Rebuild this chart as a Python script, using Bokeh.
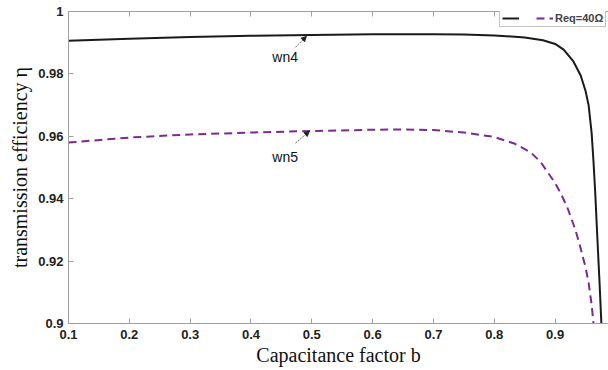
import math
from bokeh.plotting import figure
from bokeh.models import (Range1d, FixedTicker, CustomJSTickFormatter, LinearAxis, Label,
                          Arrow, NormalHead, Legend, LegendItem)
from bokeh.embed import file_html
from bokeh.resources import INLINE

# ---- data ----
b_wn4 = [0.10, 0.20, 0.30, 0.40, 0.50, 0.60, 0.70, 0.75, 0.80, 0.85, 0.88, 0.90, 0.914,
         0.93, 0.942, 0.95, 0.955, 0.96, 0.963, 0.966, 0.969, 0.973, 0.976]
eta_wn4 = [0.9906, 0.9913, 0.9918, 0.9922, 0.9925, 0.9927, 0.9927, 0.9926, 0.9923, 0.9917,
           0.9908, 0.9896, 0.9878, 0.9840, 0.9795, 0.9745, 0.9700, 0.9610, 0.9520, 0.9415,
           0.9290, 0.9130, 0.9000]
b_wn5 = [0.10, 0.20, 0.30, 0.40, 0.50, 0.60, 0.65, 0.70, 0.75, 0.80, 0.834, 0.86, 0.876,
         0.90, 0.909, 0.92, 0.933, 0.94, 0.95, 0.955, 0.96, 0.963]
eta_wn5 = [0.9580, 0.9596, 0.9606, 0.9612, 0.9617, 0.9621, 0.9622, 0.9620, 0.9612, 0.9598,
           0.9576, 0.9548, 0.9518, 0.9450, 0.9418, 0.9372, 0.9302, 0.9255, 0.9180, 0.9130,
           0.9060, 0.9000]
x_ticks = [0.1, 0.2, 0.3, 0.4, 0.5, 0.6, 0.7, 0.8, 0.9]
y_ticks = [0.90, 0.92, 0.94, 0.96, 0.98, 1.00]
legend_label = "Req=40Ω"
x_title = "Capacitance factor b"
y_title = "transmission efficiency η"
ann_wn4 = {"text": "wn4", "x": 0.435, "y": 0.9853, "x0": 0.473, "y0": 0.9885, "x1": 0.491, "y1": 0.9920}
ann_wn5 = {"text": "wn5", "x": 0.435, "y": 0.9535, "x0": 0.473, "y0": 0.9578, "x1": 0.496, "y1": 0.9616}

BLACK = "#1a1a1a"
PURPLE = "#7b2a92"
AXIS = "#a0a0a0"

p = figure(width=608, height=370, frame_width=540, frame_height=312,
           min_border_left=68, min_border_right=0, min_border_top=11, min_border_bottom=47,
           x_range=Range1d(0.1, 0.9877), y_range=Range1d(0.9, 1.0),
           output_backend="svg", toolbar_location=None,
           x_axis_label=x_title, y_axis_label=y_title)
p.outline_line_color = None
p.grid.visible = False
p.background_fill_color = "white"
p.border_fill_color = "white"

fmt = CustomJSTickFormatter(code="return tick.toFixed(2).replace(/0+$/,'').replace(/\\.$/,'');")
for ax, ticks in ((p.xaxis[0], x_ticks), (p.yaxis[0], y_ticks)):
    ax.ticker = FixedTicker(ticks=ticks)
    ax.formatter = fmt
    ax.axis_line_color = AXIS
    ax.major_tick_line_color = AXIS
    ax.major_tick_in = 5
    ax.major_tick_out = 0
    ax.minor_tick_line_color = None
    ax.major_label_text_font = "Liberation Sans"
    ax.major_label_text_font_style = "bold"
    ax.major_label_text_font_size = "13px"
    ax.major_label_text_color = "#222222"
    ax.axis_label_text_font = "Liberation Serif"
    ax.axis_label_text_font_style = "normal"
    ax.axis_label_text_font_size = "20px"
    ax.axis_label_text_color = "#111111"
p.xaxis[0].major_label_standoff = 6
p.xaxis[0].axis_label_standoff = 2
p.yaxis[0].major_label_standoff = 5
p.yaxis[0].axis_label_standoff = 4

top = LinearAxis(ticker=FixedTicker(ticks=x_ticks), axis_line_color=AXIS,
                 formatter=CustomJSTickFormatter(code="return '';"),
                 major_tick_line_color=AXIS, major_tick_in=5, major_tick_out=0,
                 minor_tick_line_color=None, major_label_standoff=0)
p.add_layout(top, "above")

r4 = p.line(b_wn4, eta_wn4, line_color=BLACK, line_width=2)
r5 = p.line(b_wn5, eta_wn5, line_color=PURPLE, line_width=2, line_dash="8 5")

for a in (ann_wn4, ann_wn5):
    p.add_layout(Label(x=a["x"], y=a["y"], text=a["text"], text_font="Liberation Sans",
                       text_font_size="14px", text_color="#111111",
                       text_baseline="middle", text_align="left"))
    p.add_layout(Arrow(x_start=a["x0"], y_start=a["y0"], x_end=a["x1"], y_end=a["y1"],
                       line_color="#444444", line_width=0.8, line_dash="2 1",
                       end=NormalHead(size=5, fill_color="#222222", line_color="#222222")))

legend = Legend(items=[LegendItem(label=" ", renderers=[r4]),
                       LegendItem(label=legend_label, renderers=[r5])],
                orientation="horizontal", location=(431, 296),
                label_text_font="Liberation Sans", label_text_font_style="bold",
                label_text_font_size="11px", glyph_width=17, glyph_height=10,
                label_standoff=2, label_width=1, spacing=14, padding=2, margin=0,
                label_height=10, border_line_color="#888888", border_line_width=1,
                background_fill_color="white", background_fill_alpha=1)
p.add_layout(legend, "center")

open("out.html", "w").write(file_html(p, INLINE))
